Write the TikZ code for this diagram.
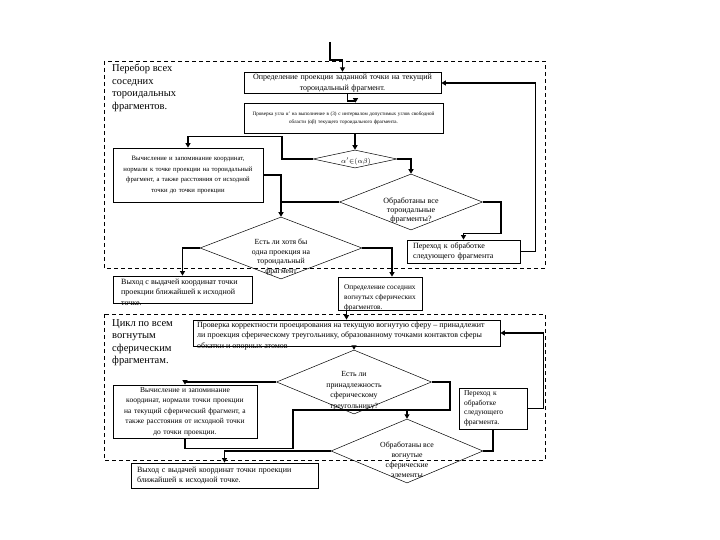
\documentclass[tikz,border=0pt]{standalone}
\usepackage{fontspec}
\setmainfont{Liberation Serif}
\usetikzlibrary{arrows.meta,shapes.geometric,calc}
\newcommand\myfs[2]{\fontsize{#1}{#2}\selectfont}
\begin{document}
\begin{tikzpicture}[x=1pt,y=-1pt,
 box/.style={draw,line width=0.8pt,inner sep=2pt,font=\myfs{8}{10.5}},
 dia/.style={draw,diamond,line width=0.5pt,inner sep=0pt},
 txt/.style={inner sep=0pt,anchor=north west,align=left,font=\myfs{8}{10.5}},
 dtxt/.style={inner sep=0pt,align=center,font=\myfs{8}{9}},
 conn/.style={line width=1.5pt,-{Triangle[width=5pt,length=4.5pt]}},
 link/.style={line width=1.5pt},
 frame/.style={line width=0.6pt,dash pattern=on 4pt off 3pt},
 lab/.style={anchor=north west,inner sep=0pt,align=left,font=\myfs{10.5}{12.5}}
]
\useasboundingbox (0,0) rectangle (720,540);

% frames
\draw[frame] (104,61) rectangle (545,268);
\draw[frame] (104,314) rectangle (545,460);

% labels
\node[lab] (lab1) at (112,64) {Перебор всех\\соседних\\тороидальных\\фрагментов.};
\node[lab] (lab2) at (112,319) {Цикл по всем\\вогнутым\\сферическим\\фрагментам.};

% boxes
\node[box,minimum width=197pt,minimum height=20pt,text width=190pt,align=center] (b1) at (342.5,83) {Определение проекции заданной точки на текущий\\тороидальный фрагмент.};
\node[box,font=\myfs{5.1}{8},minimum width=199pt,minimum height=30pt,text width=197pt,inner sep=1pt,align=center] (b2) at (343.5,118) {Проверка угла α' на выполнение в (3) с интервалом допустимых углов свободной\\области (αβ) текущего тороидального фрагмента.};
\node[box,font=\myfs{6.7}{10.5},minimum width=150pt,minimum height=54pt,text width=146pt,align=center] (b3) at (188,175) {Вычисление и запоминание координат,\\нормали к точке проекции на тороидальный\\фрагмент, а также расстояния от исходной\\точки до точки проекции};
\node[box,minimum width=113pt,minimum height=23pt,text width=101pt,align=left] (b4) at (463.5,251.5) {Переход к обработке\\следующего фрагмента};
\node[box,minimum width=139pt,minimum height=27pt] (b5) at (182.5,289.5) {};
\node[txt] (b5t) at (121,278.5) {Выход с выдачей координат точки\\проекции ближайшей к исходной\\точке.};
\node[box,minimum width=84pt,minimum height=33pt] (b6) at (380,293.5) {};
\node[txt,font=\myfs{7.3}{10}] (b6t) at (344,284.5) {Определение соседних\\вогнутых сферических\\фрагментов.};
\node[box,minimum width=307pt,minimum height=26pt] (b7) at (346.5,333) {};
\node[txt] (b7t) at (197,321.5) {Проверка корректности проецирования на текущую вогнутую сферу – принадлежит\\ли проекция сферическому треугольнику, образованному точками контактов сферы\\обкатки и опорных атомов};
\node[box,font=\myfs{7.5}{10.5},minimum width=144pt,minimum height=53pt,text width=140pt,align=center] (b8) at (185,411.5) {Вычисление и запоминание\\координат, нормали точки проекции\\на текущий сферический фрагмент, а\\также расстояния от исходной точки\\до точки проекции.};
\node[box,font=\myfs{7.5}{9.5},minimum width=68pt,minimum height=41pt,text width=58pt,align=left] (b9) at (493,408.5) {Переход к\\обработке\\следующего\\фрагмента.};
\node[box,minimum width=187pt,minimum height=25pt,text width=175pt,align=left] (b10) at (224.5,475.5) {Выход с выдачей координат точки проекции\\ближайшей к исходной точке.};

% diamonds
\node[dia,minimum width=84pt,minimum height=18pt] (d1) at (355,159) {};
\node[dtxt,font=\myfs{7.5}{9}] (d1t) at (356,161) {$\alpha'{\in}(\alpha\beta)$};
\node[dia,minimum width=143pt,minimum height=56pt] (d2) at (411,202) {};
\node[dtxt] (d2t) at (411,210) {Обработаны все\\тороидальные\\фрагменты?};
\node[dia,minimum width=162pt,minimum height=62pt] (d3) at (281,248) {};
\node[dtxt,font=\myfs{7.8}{9.5}] (d3t) at (281,257) {Есть ли хотя бы\\одна проекция на\\тороидальный\\фрагмент};
\node[dia,minimum width=155pt,minimum height=64pt] (d4) at (354,382) {};
\node[dtxt,font=\myfs{7.8}{10.5}] (d4t) at (354,391) {Есть ли\\принадлежность\\сферическому\\треугольнику?};
\node[dia,minimum width=152pt,minimum height=64pt] (d5) at (407,451) {};
\node[dtxt,font=\myfs{7.8}{10}] (d5t) at (407,460) {Обработаны все\\вогнутые\\сферические\\элементы};

% connectors
\coordinate (entry) at (330,42);
\draw[conn] (entry) |- ([yshift=12pt]b1.north) -- (b1.north);
\draw[conn] ([xshift=5pt]b1.south) -- ++(0,7) -| ([xshift=12pt]b2.north);
\draw[conn] (b2.south -| d1.north) -- (d1.north);
\draw[conn] (d1.east) -| (d2.north);
\draw[conn] (d1.west) -- ++(-31,0) |- ([yshift=11pt]b3.north) -- (b3.north);
\draw[conn] (b3.east) -| (d3.north);
\draw[link] (d2.west) -- (d2.west -| d3.north);
\draw[conn] (d2.east) -- ++(18,0) |- ([yshift=6pt]b4.north) -- (b4.north);
\draw[conn] (b4.east) -- ++(15,0) |- (b1.east);
\draw[conn] (d3.west) -| (b5.north);
\draw[conn] (d3.east) -| ([xshift=12pt]b6.north);
\draw[conn] (b6.south -| b7.north) -- (b7.north);
\draw[conn] (b7.south -| d4.north) -- (d4.north);
\draw[conn] (d4.west) -| (b8.north);
\coordinate (j2) at ([yshift=9pt]d5.north);
\draw[link] (b8.south) -- ++(0,10) -| ([xshift=-114pt]j2) -- (j2);
\draw[conn] (d4.east) -- ++(18,0) |- (j2) -- (d5.north);
\draw[link] (d5.east) -| (b9.south);
\draw[conn] (b9.east) -- ++(16,0) |- (b7.east);
\draw[conn] (d5.west) -| (b10.north);
\end{tikzpicture}
\end{document}
